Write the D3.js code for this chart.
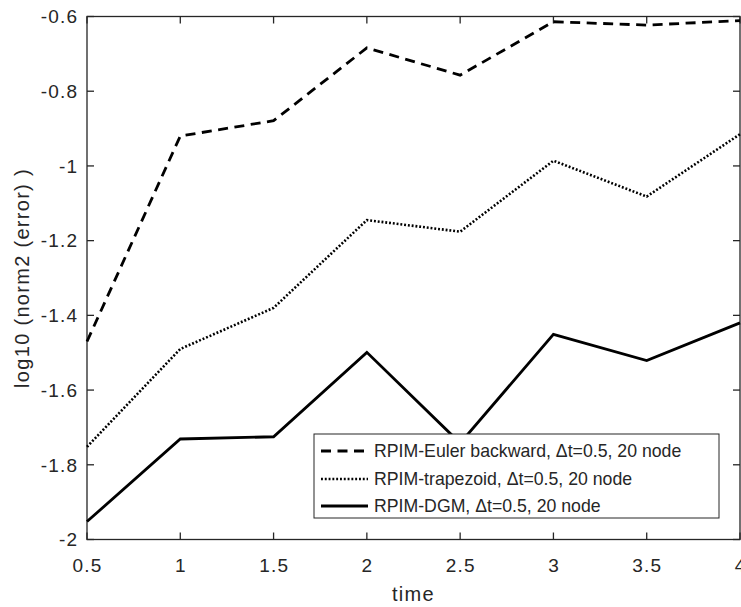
<!DOCTYPE html>
<html>
<head>
<meta charset="utf-8">
<script src="https://cdn.jsdelivr.net/npm/d3@7"></script>
<style>
  html, body { margin: 0; padding: 0; background: #fff; }
  svg { display: block; }
  text { font-family: "Liberation Sans", Arial, sans-serif; fill: #262626; }
</style>
</head>
<body>
<svg id="chart" width="741" height="607"></svg>
<script>
// Time steps and log10 error norms for each scheme
const times = [0.5, 1, 1.5, 2, 2.5, 3, 3.5, 4];
const eulerBackward = [-1.470, -0.920, -0.879, -0.684, -0.757, -0.614, -0.623, -0.611];
const trapezoid     = [-1.752, -1.490, -1.380, -1.145, -1.176, -0.986, -1.082, -0.915];
const dgm           = [-1.952, -1.731, -1.725, -1.499, -1.742, -1.451, -1.521, -1.420];

const xTicks = [0.5, 1, 1.5, 2, 2.5, 3, 3.5, 4];
const yTicks = [-2, -1.8, -1.6, -1.4, -1.2, -1, -0.8, -0.6];

const seriesNames = [
  "RPIM-Euler backward, \u0394t=0.5, 20 node",
  "RPIM-trapezoid, \u0394t=0.5, 20 node",
  "RPIM-DGM, \u0394t=0.5, 20 node"
];

const plot = { left: 87, top: 16.5, right: 740, bottom: 539.5 };

const svg = d3.select("#chart");
const x = d3.scaleLinear().domain([0.5, 4]).range([plot.left, plot.right]);
const y = d3.scaleLinear().domain([-2, -0.6]).range([plot.bottom, plot.top]);

const axisColor = "#262626";
const tickLen = 7;
const tickFont = 19;
const tickSpacing = 1.2;

// Axes box with inward ticks on all sides
const axes = svg.append("g");
axes.append("rect")
  .attr("x", plot.left).attr("y", plot.top)
  .attr("width", plot.right - plot.left).attr("height", plot.bottom - plot.top)
  .attr("fill", "none").attr("stroke", axisColor).attr("stroke-width", 1.3);

xTicks.forEach(t => {
  axes.append("line").attr("x1", x(t)).attr("x2", x(t))
    .attr("y1", plot.bottom).attr("y2", plot.bottom - tickLen)
    .attr("stroke", axisColor).attr("stroke-width", 1.3);
  axes.append("line").attr("x1", x(t)).attr("x2", x(t))
    .attr("y1", plot.top).attr("y2", plot.top + tickLen)
    .attr("stroke", axisColor).attr("stroke-width", 1.3);
  axes.append("text").attr("x", x(t) + tickSpacing / 2).attr("y", 572)
    .attr("text-anchor", "middle").attr("font-size", tickFont)
    .attr("letter-spacing", tickSpacing)
    .text(d3.format("")(t));
});

yTicks.forEach(t => {
  axes.append("line").attr("x1", plot.left).attr("x2", plot.left + tickLen)
    .attr("y1", y(t)).attr("y2", y(t))
    .attr("stroke", axisColor).attr("stroke-width", 1.3);
  axes.append("line").attr("x1", plot.right).attr("x2", plot.right - tickLen)
    .attr("y1", y(t)).attr("y2", y(t))
    .attr("stroke", axisColor).attr("stroke-width", 1.3);
  axes.append("text").attr("x", 77 + tickSpacing).attr("y", y(t)).attr("dy", "0.36em")
    .attr("text-anchor", "end").attr("font-size", tickFont)
    .attr("letter-spacing", tickSpacing)
    .text(d3.format("")(t).replace("\u2212", "-"));
});

// Axis titles
svg.append("text").attr("x", x(2.25)).attr("y", 601)
  .attr("text-anchor", "middle").attr("font-size", 20)
  .attr("letter-spacing", 1.3).text("time");
svg.append("text")
  .attr("transform", `translate(29, ${(plot.top + plot.bottom) / 2}) rotate(-90)`)
  .attr("text-anchor", "middle").attr("font-size", 20)
  .attr("letter-spacing", 1.3)
  .text("log10 (norm2 (error) )");

// Series lines
const styles = [
  { data: eulerBackward, dash: "10,6.5", width: 2.8 },
  { data: trapezoid, dash: "1.9,1.9", width: 2.6 },
  { data: dgm, dash: null, width: 2.8 }
];

const line = d3.line().x(d => x(d[0])).y(d => y(d[1]));

styles.forEach(s => {
  svg.append("path")
    .datum(times.map((t, i) => [t, s.data[i]]))
    .attr("d", line)
    .attr("fill", "none").attr("stroke", "#000")
    .attr("stroke-width", s.width)
    .attr("stroke-dasharray", s.dash)
    .attr("stroke-linejoin", "miter");
});

// Legend
const legend = svg.append("g");
legend.append("rect")
  .attr("x", 314).attr("y", 434).attr("width", 405).attr("height", 84)
  .attr("fill", "#fff").attr("stroke", axisColor).attr("stroke-width", 1);

const rowY = [451, 479, 506];
styles.forEach((s, i) => {
  legend.append("line")
    .attr("x1", 321).attr("x2", 368).attr("y1", rowY[i]).attr("y2", rowY[i])
    .attr("stroke", "#000").attr("stroke-width", s.width)
    .attr("stroke-dasharray", s.dash);
  legend.append("text")
    .attr("x", 374).attr("y", rowY[i]).attr("dy", "0.36em")
    .attr("font-size", 17.7).attr("fill", "#000")
    .text(seriesNames[i]);
});
</script>
</body>
</html>
